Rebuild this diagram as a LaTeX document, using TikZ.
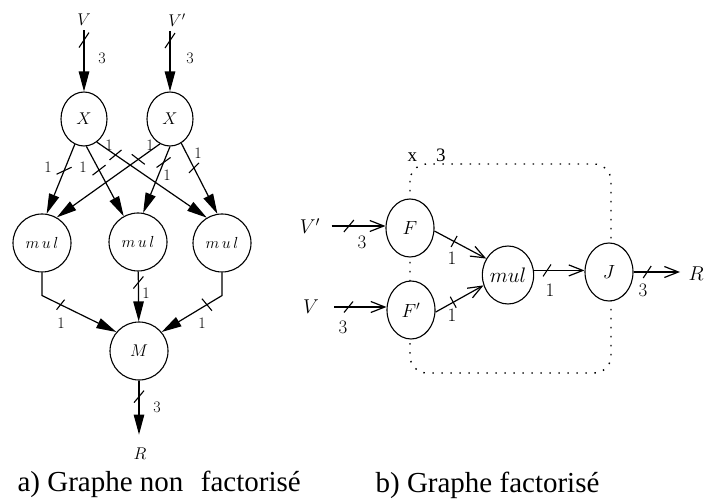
\RequirePackage{fix-cm}
\documentclass[tikz,border=0pt]{standalone}
\usepackage{fontspec}
\newfontfamily\capfont{Liberation Serif}
\usetikzlibrary{shapes.geometric,arrows.meta,calc}

\begin{document}
\begin{tikzpicture}[x=1pt,y=-1pt,
  line width=1.2pt,
  gnode/.style={draw,fill=white,inner sep=0pt,line width=1.1pt},
  xnode/.style={gnode,ellipse,minimum width=46pt,minimum height=54pt,font=\fontsize{17}{20}\selectfont},
  mulnode/.style={gnode,circle,minimum size=58pt,font=\fontsize{16}{19}\selectfont},
  fnode/.style={gnode,ellipse,minimum width=48pt,minimum height=58pt,font=\fontsize{19}{22}\selectfont},
  lbl/.style={inner sep=0pt,font=\fontsize{17}{20}\selectfont},
  rlbl/.style={inner sep=0pt,font=\fontsize{20}{24}\selectfont},
  num/.style={inner sep=0pt,font=\fontsize{16}{18}\selectfont},
  rnum/.style={inner sep=0pt,font=\fontsize{19}{22}\selectfont},
  caption/.style={inner sep=0pt,font=\capfont\fontsize{29}{34}\selectfont},
  flow/.style={-{Triangle[length=20pt,width=10.5pt]}},
  oflow/.style={-{Straight Barb[length=14pt,width=11pt]}},
  cut/.style={line width=1.1pt},
  loopbox/.style={line width=1.4pt,dash pattern=on 1.5pt off 7.5pt,rounded corners=17pt},
]
\useasboundingbox (0,0) rectangle (706,502);

% ---------- a) unfactorised graph ----------
\node[lbl] (vin) at (84,20) {$V$};
\node[lbl] (vpin) at (177,20) {$V'$};
\node[xnode] (x1) at (84,119) {$X$};
\node[xnode] (x2) at (170,119) {$X$};
\node[mulnode] (m1) at (42,243) {$m\mkern3mu u\mkern3mu l$};
\node[mulnode] (m2) at (138,242) {$m\mkern3mu u\mkern3mu l$};
\node[mulnode] (m3) at (222,243) {$m\mkern3mu u\mkern3mu l$};
\node[mulnode,font=\fontsize{17}{20}\selectfont] (mm) at (139,351) {$M$};
\node[lbl] (rl) at (140,454) {$R$};

% inputs
\draw[flow,shorten <=4pt] (vin.south) -- coordinate[pos=0.21] (c0) (x1.north);
\draw[cut] (c0) +(-5,7.5) -- +(5,-7.5);
\node[num] (n0) at (102,58) {3};
\draw[flow,shorten <=4pt] (vpin.south -| x2.north) -- coordinate[pos=0.21] (c1) (x2.north);
\draw[cut] (c1) +(-5,7.5) -- +(5,-7.5);
\node[num] (n1) at (190,58) {3};

% X -> mul
\draw[flow] (x1.250) -- coordinate[pos=0.38] (ca) (m1.81);
\draw[cut] (ca) +(-7.5,3.5) -- +(7.5,-3.5);
\node[num] (la) at (48,167) {1};
\draw[flow] (x1.275) -- coordinate[pos=0.34] (cb) (m2.119);
\draw[cut] (cb) +(-6.5,5) -- +(6.5,-5);
\node[num] (lb) at (83,167) {1};
\draw[flow] (x1.299) -- coordinate[pos=0.17] (cc) (m3.121);
\draw[cut] (cc) +(-6,5) -- +(6,-5);
\node[num] (lc) at (109,145) {1};
\draw[flow] (x2.248) -- coordinate[pos=0.21] (cd) (m1.60);
\draw[cut] (cd) +(-6.5,-5) -- +(6.5,5);
\node[num] (ld) at (150,145) {1};
\draw[flow] (x2.270) -- coordinate[pos=0.24] (ce) (m2.80);
\draw[cut] (ce) +(-7,5) -- +(7,-5);
\node[num] (le) at (167,175) {1};
\draw[flow] (x2.295) -- coordinate[pos=0.35] (cf) (m3.99);
\draw[cut] (cf) +(-5,5) -- +(5,-5);
\node[num] (lf) at (198,153) {1};

% mul -> M
\draw[flow] (m1.south) -- ++(0,23) -- coordinate[pos=0.25] (cg) (mm.140);
\draw[cut] (cg) +(-4,5) -- +(4,-5);
\node[num] (lg) at (61,323) {1};
\draw[flow] (m2) -- coordinate[pos=0.22] (ci) (mm);
\draw[cut] (ci) +(-5,6) -- +(5,-6);
\node[num] (li) at (146,293) {1};
\draw[flow] (m3.south) -- ++(0,23) -- coordinate[pos=0.25] (ch) (mm.40);
\draw[cut] (ch) +(-5,-6) -- +(5,6);
\node[num] (lh) at (202,323) {1};

% output
\draw[flow,shorten >=13pt] (mm.south) -- coordinate[pos=0.24] (cj) (mm.south |- rl.north);
\draw[cut] (cj) +(-5,6) -- +(5,-6);
\node[num] (lj) at (157,407) {3};

\node[caption,anchor=base west] (capa) at (17,491) {a) Graphe non\hspace{0.6em}factorisé};

% ---------- b) factorised graph ----------
\draw[loopbox] (410,164) rectangle (611,373);
\node[inner sep=0pt,anchor=base west,font=\capfont\fontsize{19}{22}\selectfont] (iter) at (407,162) {x\quad3};

\node[rlbl] (vr) at (310,226) {$V'$};
\node[rlbl] (v) at (311,307) {$V$};
\node[fnode] (f) at (410,228) {$F$};
\node[fnode] (fp) at (411,310) {$F'$};
\node[fnode,font=\fontsize{21}{24}\selectfont] (mr) at (508,275) {$mul$};
\node[fnode] (j) at (609,272) {$J$};
\node[rlbl,anchor=west] (rr) at (688,274) {$R$};

\draw[oflow] ([xshift=11pt]vr.east) -- coordinate[pos=0.32] (d0) (vr.east -| f.west);
\draw[cut] (d0) +(-5,6) -- +(5,-6);
\node[rnum] (k0) at (362,242) {3};
\draw[oflow] ([xshift=15pt]v.east) -- coordinate[pos=0.27] (d1) (v.east -| fp.west);
\draw[cut] (d1) +(-4.5,5.5) -- +(4.5,-5.5);
\node[rnum] (k1) at (343,327) {3};

\draw[oflow] (f.-7) -- coordinate[pos=0.38] (d2) (mr.143);
\draw[cut] (d2) +(-3,5.5) -- +(3,-5.5);
\node[rnum] (k2) at (452,258) {1};
\draw[oflow] (fp.-5) -- coordinate[pos=0.37] (d3) (mr.203);
\draw[cut] (d3) +(-3,-5.5) -- +(3,5.5);
\node[rnum] (k3) at (452,315) {1};

\draw[oflow] (mr.10) -- coordinate[pos=0.26] (d4) (mr.10 -| j.west);
\draw[cut] (d4) +(-4,6) -- +(4,-6);
\node[rnum] (k4) at (550,290) {1};
\draw[oflow,shorten >=8pt] (j.east) -- coordinate[pos=0.25] (d5) (j.east -| rr.west);
\draw[cut] (d5) +(-4,6) -- +(4,-6);
\node[rnum] (k5) at (643,290) {3};

\node[caption,anchor=base west] (capb) at (375,492) {b) Graphe factorisé};
\end{tikzpicture}
\end{document}
